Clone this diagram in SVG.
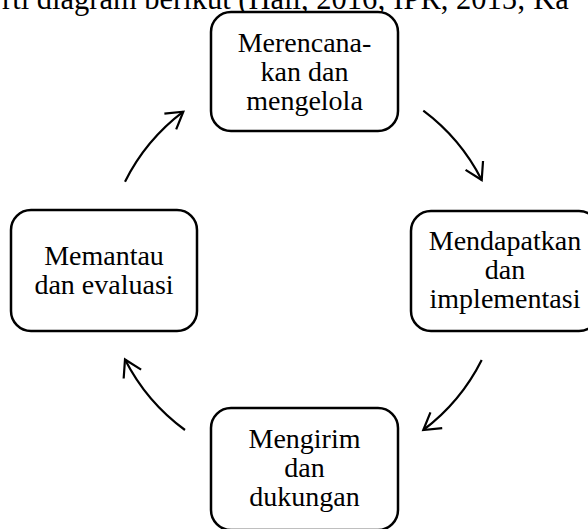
<svg xmlns="http://www.w3.org/2000/svg" width="588" height="529" viewBox="0 0 588 529">
  <style>
    .box { fill: #fff; stroke: #000; stroke-width: 2.5; }
    .lbl { font-family: "Liberation Serif", "Times New Roman", serif; font-size: 28px; fill: #000; text-anchor: middle; }
    .hdr { font-family: "Liberation Serif", "Times New Roman", serif; font-size: 30.5px; fill: #000; }
    .arc { fill: none; stroke: #000; stroke-width: 2.2; marker-end: url(#ah); }
  </style>
  <defs>
    <marker id="ah" markerUnits="userSpaceOnUse" orient="auto" refX="0" refY="0" markerWidth="30" markerHeight="30" viewBox="-20 -15 30 30" overflow="visible">
      <path d="M-16.3,-9.8 L0,0 L-16.3,9.8" fill="none" stroke="#000" stroke-width="2.2" stroke-linejoin="miter"/>
    </marker>
  </defs>
  <rect width="588" height="529" fill="#fff"/>
  <text class="hdr" x="2" y="9">rti diagram berikut (Hall, 2016; IPR, 2015; Ka</text>

  <g id="connectors">
    <path class="arc" d="M125,181.7 A199.5,199.5 0 0 1 183.3,111.7"/>
    <path class="arc" d="M423.3,110.7 A199.5,199.5 0 0 1 481.7,180"/>
    <path class="arc" d="M481.7,360 A199.5,199.5 0 0 1 423.3,430"/>
    <path class="arc" d="M185,430 A199.5,199.5 0 0 1 125,359.5"/>
  </g>

  <g id="node-plan">
    <rect class="box" x="211" y="12" width="187" height="119" rx="20"/>
    <text class="lbl" x="304.5" y="52">Merencana-</text>
    <text class="lbl" x="304.5" y="81">kan dan</text>
    <text class="lbl" x="304.5" y="110">mengelola</text>
  </g>

  <g id="node-acquire">
    <rect class="box" x="411" y="211" width="188" height="120" rx="20"/>
    <text class="lbl" x="505" y="250">Mendapatkan</text>
    <text class="lbl" x="505" y="279">dan</text>
    <text class="lbl" x="505" y="308">implementasi</text>
  </g>

  <g id="node-deliver">
    <rect class="box" x="211" y="408" width="187" height="122" rx="20"/>
    <text class="lbl" x="304.5" y="448">Mengirim</text>
    <text class="lbl" x="304.5" y="477">dan</text>
    <text class="lbl" x="304.5" y="506">dukungan</text>
  </g>

  <g id="node-monitor">
    <rect class="box" x="11" y="210" width="186" height="121" rx="20"/>
    <text class="lbl" x="104" y="265">Memantau</text>
    <text class="lbl" x="104" y="294">dan evaluasi</text>
  </g>
</svg>
